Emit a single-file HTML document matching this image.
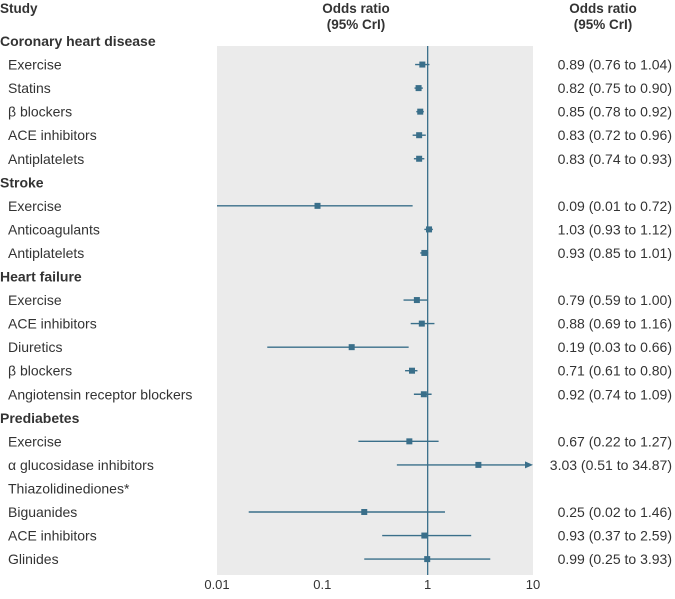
<!DOCTYPE html>
<html><head><meta charset="utf-8"><style>
body{margin:0;background:#fff;font-family:"Liberation Sans",sans-serif;color:#333;}
svg text{font-family:"Liberation Sans",sans-serif;}
</style></head><body>
<svg id="c" width="675" height="594" xmlns="http://www.w3.org/2000/svg">
<rect x="217" y="46" width="316" height="529" fill="#ebebeb"/>
<text x="0" y="13" font-size="13.5" font-weight="bold" fill="#333">Study</text>
<text x="356" y="13" font-size="13.5" font-weight="bold" fill="#333" text-anchor="middle">Odds ratio</text>
<text x="356" y="29" font-size="13.5" font-weight="bold" fill="#333" text-anchor="middle">(95% CrI)</text>
<text x="603" y="13" font-size="13.5" font-weight="bold" fill="#333" text-anchor="middle">Odds ratio</text>
<text x="603" y="29" font-size="13.5" font-weight="bold" fill="#333" text-anchor="middle">(95% CrI)</text>
<g id="marks"></g>
</svg>
<script>
const labels=["Coronary heart disease","Exercise","Statins","β blockers","ACE inhibitors","Antiplatelets","Stroke","Exercise","Anticoagulants","Antiplatelets","Heart failure","Exercise","ACE inhibitors","Diuretics","β blockers","Angiotensin receptor blockers","Prediabetes","Exercise","α glucosidase inhibitors","Thiazolidinediones*","Biguanides","ACE inhibitors","Glinides"];
const isHeader=[1,0,0,0,0,0,1,0,0,0,1,0,0,0,0,0,1,0,0,0,0,0,0];
const est=[null,0.89,0.82,0.85,0.83,0.83,null,0.09,1.03,0.93,null,0.79,0.88,0.19,0.71,0.92,null,0.67,3.03,null,0.25,0.93,0.99];
const lo=[null,0.76,0.75,0.78,0.72,0.74,null,0.01,0.93,0.85,null,0.59,0.69,0.03,0.61,0.74,null,0.22,0.51,null,0.02,0.37,0.25];
const hi=[null,1.04,0.90,0.92,0.96,0.93,null,0.72,1.12,1.01,null,1.00,1.16,0.66,0.80,1.09,null,1.27,34.87,null,1.46,2.59,3.93];
const tickVals=[0.01,0.1,1,10];
const tickLabels=["0.01","0.1","1","10"];
const NS="http://www.w3.org/2000/svg";
const g=document.getElementById('marks');
const X0=217,X1=533,LMIN=-2,LMAX=1;
function xs(v){return X0+(Math.log10(v)-LMIN)/(LMAX-LMIN)*(X1-X0);}
function ys(i){return 41+i*23.55;}
function mk(t,a){const e=document.createElementNS(NS,t);for(const k in a)e.setAttribute(k,a[k]);g.appendChild(e);return e;}
const C="#3a6f8a";
const ref=mk('line',{x1:xs(1),x2:xs(1),y1:46,y2:575,stroke:C,'stroke-width':1.3});


const fmt=v=>v.toFixed(2);
labels.forEach((l,i)=>{
  const y=ys(i);
  const t=mk('text',{x:isHeader[i]?0:8,y:y+5,'font-size':14,'font-weight':isHeader[i]?'bold':'normal',fill:'#333'});
  t.textContent=l;
  
  
  if(est[i]==null)return;
  const xl=xs(Math.max(lo[i],0.01)),over=hi[i]>10,xh=xs(Math.min(hi[i],10));
  const ln=mk('line',{x1:xl,x2:over?xh-6:xh,y1:y,y2:y,stroke:C,'stroke-width':1.4});
  
  
  if(over){const a=mk('polygon',{points:`${xh},${y} ${xh-8},${y-3.5} ${xh-8},${y+3.5}`,fill:C});
    
    }
  const sq=mk('rect',{x:xs(est[i])-3,y:y-3,width:6,height:6,fill:C});
  
  
  const v=mk('text',{x:672,y:y+5,'font-size':14,fill:'#333','text-anchor':'end'});
  v.textContent=`${fmt(est[i])} (${fmt(lo[i])} to ${fmt(hi[i])})`;
  
  
});
tickVals.forEach((v,k)=>{
  const t=mk('text',{x:xs(v),y:589,'font-size':13,fill:'#333','text-anchor':'middle'});
  t.textContent=tickLabels[k];
  
  
});
</script>
</body></html>
